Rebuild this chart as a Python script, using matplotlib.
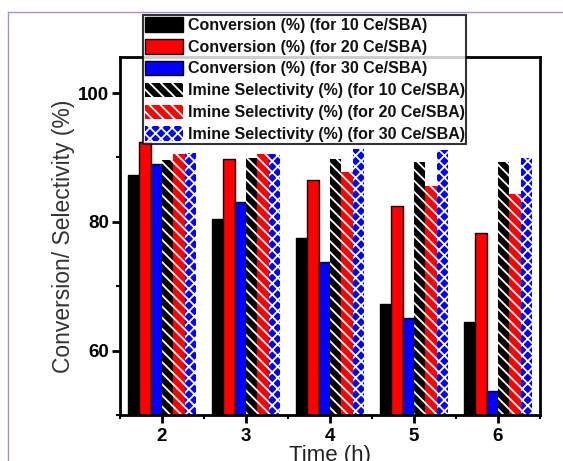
import matplotlib
matplotlib.use("Agg")
import matplotlib.pyplot as plt
from matplotlib.lines import Line2D
from matplotlib.ticker import MultipleLocator
import numpy as np

# values
times = [2, 3, 4, 5, 6]
conv_10 = [87.3, 80.4, 77.5, 67.2, 64.5]
conv_20 = [92.4, 89.7, 86.5, 82.5, 78.2]
conv_30 = [89.0, 83.1, 73.8, 65.1, 53.8]
sel_10 = [89.6, 89.9, 89.8, 89.3, 89.3]
sel_20 = [90.5, 90.5, 87.8, 85.5, 84.3]
sel_30 = [90.7, 90.5, 91.3, 91.1, 89.9]

labels = [
    "Conversion (%) (for 10 Ce/SBA)",
    "Conversion (%) (for 20 Ce/SBA)",
    "Conversion (%) (for 30 Ce/SBA)",
    "Imine Selectivity (%) (for 10 Ce/SBA)",
    "Imine Selectivity (%) (for 20 Ce/SBA)",
    "Imine Selectivity (%) (for 30 Ce/SBA)",
]

plt.rcParams["font.family"] = ["Liberation Sans", "DejaVu Sans"]
plt.rcParams["hatch.linewidth"] = 1.3

fig = plt.figure(figsize=(5.63, 4.61), dpi=100)
ax = fig.add_axes([120 / 563, 1 - 415 / 461, 420 / 563, 358 / 461])

x = np.array(times, dtype=float)
w = 0.135
series = [conv_10, conv_20, conv_30, sel_10, sel_20, sel_30]
# hatched bars: coloured face with white stripes
styles = [
    dict(color="black", edgecolor="black", linewidth=1.0),
    dict(color="red", edgecolor="black", linewidth=1.0),
    dict(color="blue", edgecolor="black", linewidth=1.0),
    dict(facecolor="black", edgecolor="white", hatch="\\\\\\", linewidth=0),
    dict(facecolor="red", edgecolor="white", hatch="\\\\\\", linewidth=0),
    dict(facecolor="blue", edgecolor="white", hatch="xxx", linewidth=0),
]
handles = []
for i, (vals, st) in enumerate(zip(series, styles)):
    off = (i - 2.5) * w
    bars = ax.bar(x + off, vals, width=w, label=labels[i], **st)
    handles.append(bars)

ax.set_xlim(1.5, 6.5)
ax.set_ylim(50, 105.6)
ax.set_xticks(times)
ax.yaxis.set_major_locator(MultipleLocator(20))
ax.yaxis.set_minor_locator(MultipleLocator(10))
ax.xaxis.set_minor_locator(MultipleLocator(0.5))
ax.tick_params(which="major", direction="out", length=6, width=2, labelsize=13.5)
ax.tick_params(which="minor", direction="out", length=3, width=1.5)
ax.tick_params(axis="y", pad=2)
for lab in ax.get_xticklabels() + ax.get_yticklabels():
    lab.set_fontweight("bold")
for s in ax.spines.values():
    s.set_linewidth(2)

ax.set_ylabel("Conversion/ Selectivity (%)", fontsize=16.5, color="#333333", labelpad=2)
ax.set_xlabel("Time (h)", fontsize=16, color="#222222", labelpad=0)

leg = ax.legend(handles=handles, loc="lower left",
                bbox_to_anchor=(23 / 420, (415 - 144) / 358),
                fontsize=11.5, frameon=True, fancybox=False, edgecolor="black",
                borderpad=0.1, labelspacing=0.38, handlelength=2.4, handleheight=1.06,
                handletextpad=0.3, borderaxespad=0)
leg.get_frame().set_linewidth(1.5)
for t in leg.get_texts():
    t.set_fontweight("bold")
    t.set_color("#111111")

# purple page border from the screenshot
fig.add_artist(Line2D([8 / 563, 8 / 563], [0, 1 - 12 / 461], color="#a98fd0", lw=1))
fig.add_artist(Line2D([8 / 563, 1], [1 - 12 / 461, 1 - 12 / 461], color="#a98fd0", lw=1))

fig.savefig("out.png", dpi=100)
